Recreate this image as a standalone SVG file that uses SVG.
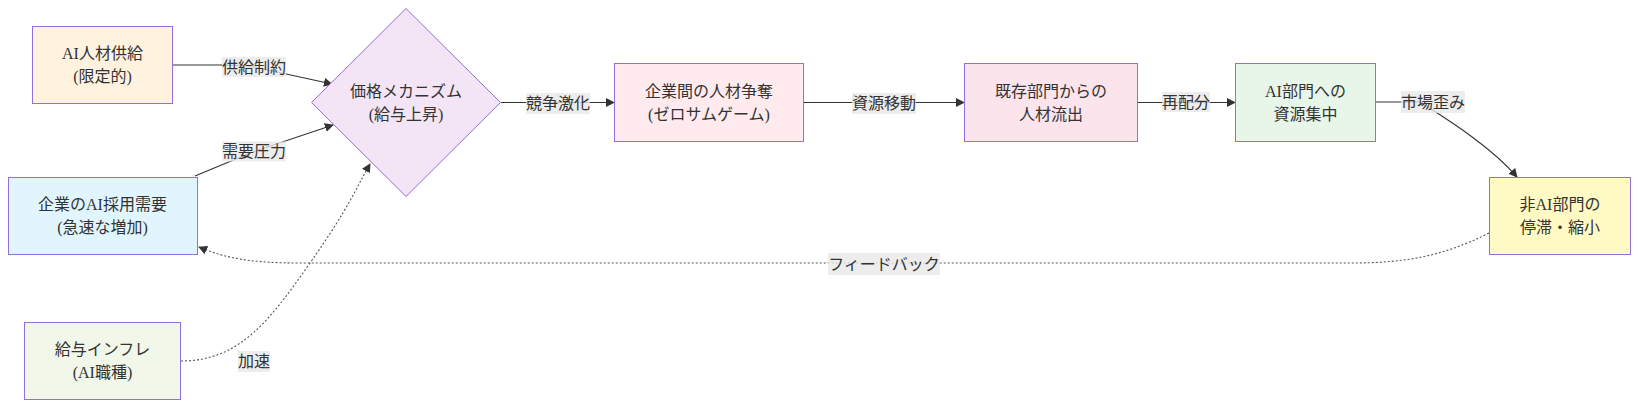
<svg xmlns="http://www.w3.org/2000/svg" width="1639" height="408" viewBox="0 0 1639 408">
<defs>
<style>
.node{stroke:#9370DB;stroke-width:1}
.t{font-family:"Liberation Serif","Noto Sans CJK JP",serif;font-size:16px;fill:#333;text-anchor:middle;dominant-baseline:central}
.lbl{fill:#e8e8e8;fill-opacity:0.8}
.e{fill:none;stroke:#333;stroke-width:1.1}
.d{fill:none;stroke:#555;stroke-width:1.1;stroke-dasharray:2 2}
</style>
<marker id="arr" viewBox="0 0 10 10" refX="9" refY="5" markerWidth="9" markerHeight="9" markerUnits="userSpaceOnUse" orient="auto">
<path d="M0,0 L10,5 L0,10 z" fill="#333"/>
</marker>
</defs>
<rect width="1639" height="408" fill="#fff"/>
<g id="connectors">
<path class="e" d="M173,65 L222,65 Q240,65 254,67 L332,84" marker-end="url(#arr)"/>
<path class="e" d="M195,176 L254,151.5 L333,125" marker-end="url(#arr)"/>
<path class="d" d="M181,361 C240,361 270,320 310,263 S355,190 370,164" marker-end="url(#arr)"/>
<path class="e" d="M501,102.5 L614,102.5" marker-end="url(#arr)"/>
<path class="e" d="M803,102.5 L964,102.5" marker-end="url(#arr)"/>
<path class="e" d="M1137,102.5 L1235,102.5" marker-end="url(#arr)"/>
<path class="e" d="M1376,102 L1420,102 C1440,115 1490,145 1517,177" marker-end="url(#arr)"/>
<path class="d" d="M1489,233 C1440,258 1400,263 1350,263 L300,263 C250,263 225,258 199,247" marker-end="url(#arr)"/>
<rect class="lbl" x="222" y="57" width="64" height="20"/>
<text class="t" x="254" y="67">供給制約</text>
<rect class="lbl" x="222" y="141.5" width="64" height="20"/>
<text class="t" x="254" y="151.5">需要圧力</text>
<rect class="lbl" x="238" y="351" width="32" height="21"/>
<text class="t" x="254" y="361.5">加速</text>
<rect class="lbl" x="526" y="93" width="64" height="21"/>
<text class="t" x="558" y="103.5">競争激化</text>
<rect class="lbl" x="852" y="93" width="64" height="21"/>
<text class="t" x="884" y="103.5">資源移動</text>
<rect class="lbl" x="1162" y="92" width="48" height="20"/>
<text class="t" x="1186" y="102">再配分</text>
<rect class="lbl" x="1401" y="91" width="64" height="22"/>
<text class="t" x="1433" y="102">市場歪み</text>
<rect class="lbl" x="828" y="253" width="112" height="22"/>
<text class="t" x="884" y="264">フィードバック</text>
</g>
<g id="supply">
<rect class="node" x="32.5" y="26.5" width="140" height="77" fill="#fff3e0"/>
<text class="t" x="102.5" y="53.5">AI人材供給</text>
<text class="t" x="102.5" y="76.5">(限定的)</text>
</g>
<g id="price">
<polygon class="node" points="406,8.5 500.5,102.5 406,196.5 311.5,102.5" fill="#f3e5f5"/>
<text class="t" x="406" y="91">価格メカニズム</text>
<text class="t" x="406" y="114">(給与上昇)</text>
</g>
<g id="demand">
<rect class="node" x="8.5" y="177.5" width="189" height="77" fill="#e1f5fe"/>
<text class="t" x="102.5" y="204.5">企業のAI採用需要</text>
<text class="t" x="102.5" y="227.5">(急速な増加)</text>
</g>
<g id="inflation">
<rect class="node" x="24.5" y="322.5" width="156" height="77" fill="#f1f8e9"/>
<text class="t" x="102.5" y="349.5">給与インフレ</text>
<text class="t" x="102.5" y="372.5">(AI職種)</text>
</g>
<g id="competition">
<rect class="node" x="614.5" y="63.5" width="189" height="78" fill="#ffebee"/>
<text class="t" x="709" y="91">企業間の人材争奪</text>
<text class="t" x="709" y="114">(ゼロサムゲーム)</text>
</g>
<g id="outflow">
<rect class="node" x="964.5" y="63.5" width="173" height="78" fill="#fce4ec"/>
<text class="t" x="1051" y="91">既存部門からの</text>
<text class="t" x="1051" y="114">人材流出</text>
</g>
<g id="concentration">
<rect class="node" x="1235.5" y="63.5" width="140" height="78" fill="#e8f5e9"/>
<text class="t" x="1305.5" y="91">AI部門への</text>
<text class="t" x="1305.5" y="114">資源集中</text>
</g>
<g id="stagnation">
<rect class="node" x="1489.5" y="177.5" width="141" height="77" fill="#fff9c4"/>
<text class="t" x="1560" y="204.5">非AI部門の</text>
<text class="t" x="1560" y="227.5">停滞・縮小</text>
</g>
</svg>
